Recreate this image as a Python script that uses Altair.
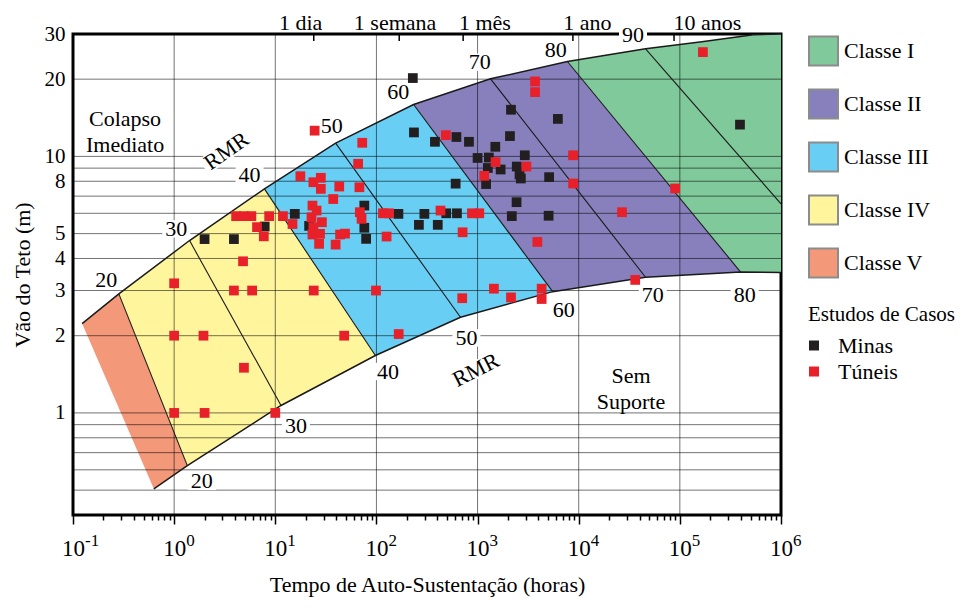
import altair as alt
import pandas as pd

FONT = "Liberation Serif"

# ---------------- data ----------------
classes = ["Classe I", "Classe II", "Classe III", "Classe IV", "Classe V"]
class_colors = ["#80C99B", "#8780BC", "#68CEF4", "#FFF59D", "#F4987A"]

# upper and lower boundary curves of the RMR band (hours, span m)
upper_h = [0.123, 0.284, 1.42, 7.81, 39.5, 233, 1343, 7730, 45800, 165000, 531000, 1000000]
upper_s = [2.23, 2.91, 4.70, 7.47, 11.26, 15.93, 20.06, 23.44, 26.27, 28.0, 29.8, 30.0]
lower_h = [0.63, 1.35, 11.4, 97.7, 678, 5530, 45800, 399000, 1000000]
lower_s = [0.506, 0.623, 1.069, 1.674, 2.36, 2.97, 3.38, 3.54, 3.53]
rmr_lines = ["20", "30", "40", "50", "60", "70", "80", "90"]
rmr90_end_h = 1000000
rmr90_end_s = 6.53

# class polygons: (upper from, upper to, lower from, lower to)
class_spans = {
    "Classe V": (0, 1, 0, 1),
    "Classe IV": (1, 3, 1, 3),
    "Classe III": (3, 5, 3, 5),
    "Classe II": (5, 7, 5, 7),
    "Classe I": (7, 11, 7, 8),
}

# case studies
minas_h = [2.0, 3.9, 7.86, 15.6, 21.6, 75.9, 75.9, 79.1, 165, 298, 263, 404, 490, 625, 607,
           235, 379, 618, 822, 229, 2140, 6220, 2090, 1497, 1000, 1293, 1263, 1690, 2440,
           2930, 2600, 2680, 1214, 5100, 2430, 2180, 5040, 393000]
minas_s = [4.76, 4.76, 5.33, 5.97, 5.36, 6.43, 5.27, 4.77, 5.97, 5.97, 5.41, 5.41, 6.0, 6.0, 7.83,
           12.4, 11.4, 11.9, 11.4, 20.2, 15.2, 14.0, 12.0, 10.9, 9.86, 9.9, 9.01, 8.89, 9.13,
           10.1, 8.5, 8.2, 7.8, 8.3, 6.63, 5.85, 5.87, 13.3]
tuneis_h = [1.0, 1.0, 1.95, 1.0, 2.0, 10, 4.9, 3.9, 5.9, 4.8, 24, 99, 48, 166, 705,
            1450, 2140, 4300, 4300, 36200, 8800, 8800, 26800, 89800, 169000, 3900, 3700, 3700,
            3040, 1507, 1166, 486, 711, 880, 1040, 430, 116, 133, 126, 24.5, 72.4, 65.9, 17.7,
            23.8, 28.2, 28.2, 42.9, 67.9, 37.4, 23.3, 25.6, 22.8, 28.9, 23.8, 27.7, 23.3, 27.1,
            43.7, 48.9, 39.5, 68.5, 71.3, 8.7, 11.9, 14.8, 6.6, 7.7, 4.1, 4.9, 5.8]
tuneis_s = [3.2, 2.0, 2.0, 1.0, 1.0, 1.0, 1.5, 3.0, 3.0, 3.9, 3.0, 3.0, 2.0, 2.03, 2.8,
            3.05, 2.82, 3.05, 2.78, 3.3, 10.1, 7.84, 6.06, 7.5, 25.5, 4.64, 19.6, 17.8,
            9.13, 9.5, 8.4, 12.1, 5.06, 6.0, 6.0, 6.15, 6.0, 6.0, 4.87, 12.6, 11.3, 9.36, 8.37,
            7.93, 8.25, 7.47, 7.63, 7.58, 6.82, 6.43, 6.15, 5.79, 5.54, 5.3, 4.99, 4.96, 4.56,
            4.96, 5.0, 4.53, 6.06, 5.71, 5.85, 5.85, 5.45, 5.3, 4.88, 5.85, 5.85, 5.85]

# labels on the curves
num_lab_text = ["20", "30", "40", "50", "60", "70", "80", "90",
                "20", "30", "40", "50", "60", "70", "80"]
num_lab_h = [0.213, 1.05, 5.57, 36.1, 164, 1048, 5920, 34400,
             1.88, 16.0, 130, 776, 7130, 54000, 437000]
num_lab_s = [3.31, 5.22, 8.49, 13.1, 17.9, 23.3, 26.1, 29.6,
             0.541, 0.893, 1.45, 1.96, 2.52, 2.89, 2.89]
rmr_lab_h = [3.3, 961]
rmr_lab_s = [10.5, 1.47]
rmr_lab_angle = [325, 333]

zone_text = ["Colapso\nImediato", "Sem\nSuporte"]
zone_h = [0.327, 32900]
zone_s = [14.05, 1.39]

top_tick_h = [24, 168, 720, 8760, 87600]
top_labels = ["1 dia", "1 semana", "1 mês", "1 ano", "10 anos"]
top_label_h = [17.8, 152.8, 1183, 12190, 187000]

decade_h = [0.1, 1, 10, 100, 1000, 10000, 100000, 1000000]
decade_exp = ["-1", "0", "1", "2", "3", "4", "5", "6"]
hgrid_s = [0.5, 0.6, 0.7, 0.8, 0.9, 1, 2, 3, 4, 5, 6, 7, 8, 9, 10, 20]
vgrid_h = [1, 10, 100, 1000, 10000, 100000]
y_label_vals = [1, 2, 3, 4, 5, 6, 8, 10, 20, 30]

# ---------------- tables ----------------
rows = []
for cls, (a, b, c, d) in class_spans.items():
    pts = list(zip(upper_h[a:b + 1], upper_s[a:b + 1])) + \
        list(zip(lower_h[c:d + 1], lower_s[c:d + 1]))[::-1]
    for i, (h, s) in enumerate(pts):
        rows.append({"classe": cls, "h": h, "s": s, "i": i})
poly_df = pd.DataFrame(rows)

curve_rows = []
for i, (h, s) in enumerate(zip(upper_h, upper_s)):
    curve_rows.append({"lid": "upper", "h": h, "s": s, "i": i})
for i, (h, s) in enumerate(zip(lower_h, lower_s)):
    curve_rows.append({"lid": "lower", "h": h, "s": s, "i": i})
curve_df = pd.DataFrame(curve_rows)

rmr_rows = []
for k, name in enumerate(rmr_lines):
    rmr_rows.append({"lid": name, "h": upper_h[k + 1], "s": upper_s[k + 1], "i": 0})
    if name == "90":
        rmr_rows.append({"lid": name, "h": rmr90_end_h, "s": rmr90_end_s, "i": 1})
    else:
        rmr_rows.append({"lid": name, "h": lower_h[k + 1], "s": lower_s[k + 1], "i": 1})
rmr_df = pd.DataFrame(rmr_rows)

pts_df = pd.DataFrame({
    "h": minas_h + tuneis_h,
    "s": minas_s + tuneis_s,
    "tipo": ["Minas"] * len(minas_h) + ["Túneis"] * len(tuneis_h),
})
num_df = pd.DataFrame({"t": num_lab_text, "h": num_lab_h, "s": num_lab_s})
rmr_lab_df = pd.DataFrame({"t": ["RMR", "RMR"], "h": rmr_lab_h, "s": rmr_lab_s, "a": rmr_lab_angle})
zone_df = pd.DataFrame({"t": zone_text, "h": zone_h, "s": zone_s})
top_tick_df = pd.DataFrame({"h": top_tick_h})
top_lab_df = pd.DataFrame({"t": top_labels, "h": top_label_h})
exp_df = pd.DataFrame({"t": decade_exp, "h": decade_h})
hgrid_df = pd.DataFrame({"s": hgrid_s})
vgrid_df = pd.DataFrame({"h": vgrid_h})

# ---------------- scales / axes ----------------
W, H = 708, 481
xscale = alt.Scale(type="log", domain=[0.1, 1000000], nice=False)
yscale = alt.Scale(type="log", domain=[0.4, 30], nice=False)

x_ticks = []
for e in range(-1, 6):
    for m in range(1, 10):
        x_ticks.append(m * 10.0 ** e)
x_ticks.append(1000000.0)
is_major = "abs(log(datum.value)/LN10 - round(log(datum.value)/LN10)) < 0.01"

x_axis = alt.Axis(
    values=x_ticks,
    labelExpr=is_major + " ? '10' : ''",
    tickSize={"condition": {"test": "!(" + is_major + ")", "value": 5}, "value": 9},
    tickWidth=1.5, tickColor="black",
    domain=False, grid=False, labelOverlap=False, labelFlush=False,
    labelFontSize=23, labelPadding=13, labelColor="black", labelFont=FONT,
    title="Tempo de Auto-Sustentação (horas)", titleFontSize=22, titleFontWeight="normal",
    titleFont=FONT, titleColor="black", titlePadding=14,
)
y_axis = alt.Axis(
    values=y_label_vals, ticks=False, domain=False, grid=False,
    labelFontSize=21, labelPadding=8, labelColor="black", labelFont=FONT,
    title="Vão do Teto (m)", titleFontSize=22, titleFontWeight="normal",
    titleFont=FONT, titleColor="black", titlePadding=10,
)


def X():
    return alt.X("h:Q", scale=xscale, axis=x_axis)


def Y():
    return alt.Y("s:Q", scale=yscale, axis=y_axis)


class_legend = alt.Legend(
    title=None, orient="none", legendX=735, legendY=1.5,
    symbolType="square", symbolSize=841, symbolStrokeColor="#8C8C8C",
    symbolStrokeWidth=2, symbolOpacity=1, labelFontSize=22, labelFont=FONT,
    labelColor="black", rowPadding=16, labelOffset=5, padding=0,
)
case_legend = alt.Legend(
    title="Estudos de Casos", orient="none", legendX=735, legendY=269.5,
    symbolType="square", symbolSize=100, symbolStrokeWidth=0, symbolOpacity=1,
    symbolOffset=-5,
    labelFontSize=22, labelFont=FONT, labelColor="black", titleFontSize=21,
    titleFont=FONT, titleFontWeight="normal", titleColor="black", titlePadding=10,
    rowPadding=4, labelOffset=13, padding=0,
)

# ---------------- layers ----------------
polys = alt.Chart(poly_df).mark_line(strokeWidth=0, fillOpacity=1).encode(
    x=X(), y=Y(),
    fill=alt.Fill("classe:N", scale=alt.Scale(domain=classes, range=class_colors),
                  legend=class_legend),
    detail="classe:N",
    order="i:Q",
)

hgrid = alt.Chart(hgrid_df).mark_rule(color="black", strokeWidth=1, opacity=0.55).encode(y=Y())
vgrid = alt.Chart(vgrid_df).mark_rule(color="black", strokeWidth=1, opacity=0.55).encode(x=X())

curves = alt.Chart(curve_df).mark_line(color="#1a1a1a", strokeWidth=1.5).encode(
    x=X(), y=Y(), detail="lid:N", order="i:Q")
rmr = alt.Chart(rmr_df).mark_line(color="#1a1a1a", strokeWidth=1.1).encode(
    x=X(), y=Y(), detail="lid:N", order="i:Q")

num_boxes = alt.Chart(num_df).mark_point(
    shape="M-1,-0.62H1V0.62H-1Z", filled=True, fill="white", strokeWidth=0, opacity=1, size=784
).encode(x=X(), y=Y())
rmr_boxes = alt.Chart(rmr_lab_df).mark_point(
    shape="M-1,-0.32H1V0.32H-1Z", filled=True, fill="white", strokeWidth=0, opacity=1, size=3136
).encode(x=X(), y=Y(), angle=alt.Angle("a:Q", scale=None))

num_text = alt.Chart(num_df).mark_text(fontSize=22, font=FONT, color="black").encode(
    x=X(), y=Y(), text="t:N")
rmr_text = alt.Chart(rmr_lab_df).mark_text(fontSize=22, font=FONT, color="black").encode(
    x=X(), y=Y(), text="t:N", angle=alt.Angle("a:Q", scale=None))
zone_text_l = alt.Chart(zone_df).mark_text(
    fontSize=22, font=FONT, color="black", lineBreak="\n", lineHeight=26
).encode(x=X(), y=Y(), text="t:N")

points = alt.Chart(pts_df).mark_square(size=95, opacity=1).encode(
    x=X(), y=Y(),
    color=alt.Color("tipo:N", scale=alt.Scale(domain=["Minas", "Túneis"],
                                              range=["#231F20", "#E8202A"]),
                    legend=case_legend),
)

top_ticks = alt.Chart(top_tick_df).mark_rule(color="black", strokeWidth=1.5).encode(
    x=X(), y=alt.value(0), y2=alt.value(7))
top_text = alt.Chart(top_lab_df).mark_text(
    fontSize=22, font=FONT, color="black", baseline="alphabetic"
).encode(x=X(), y=alt.value(-4.5), text="t:N")
exp_text = alt.Chart(exp_df).mark_text(
    fontSize=17, font=FONT, color="black", align="left", baseline="middle", dx=12
).encode(x=X(), y=alt.value(506.5), text="t:N")

chart = alt.layer(
    polys, hgrid, vgrid, curves, rmr, num_boxes, rmr_boxes, num_text, rmr_text,
    zone_text_l, points, top_ticks, top_text, exp_text,
).resolve_scale(fill="independent", color="independent").properties(
    width=W, height=H,
    autosize=alt.AutoSizeParams(type="none"),
    padding={"left": 65, "top": 26, "right": 179, "bottom": 85},
).configure(font=FONT).configure_view(stroke="black", strokeWidth=3)

chart.save("out.html", embed_options={"renderer": "svg", "actions": False})
